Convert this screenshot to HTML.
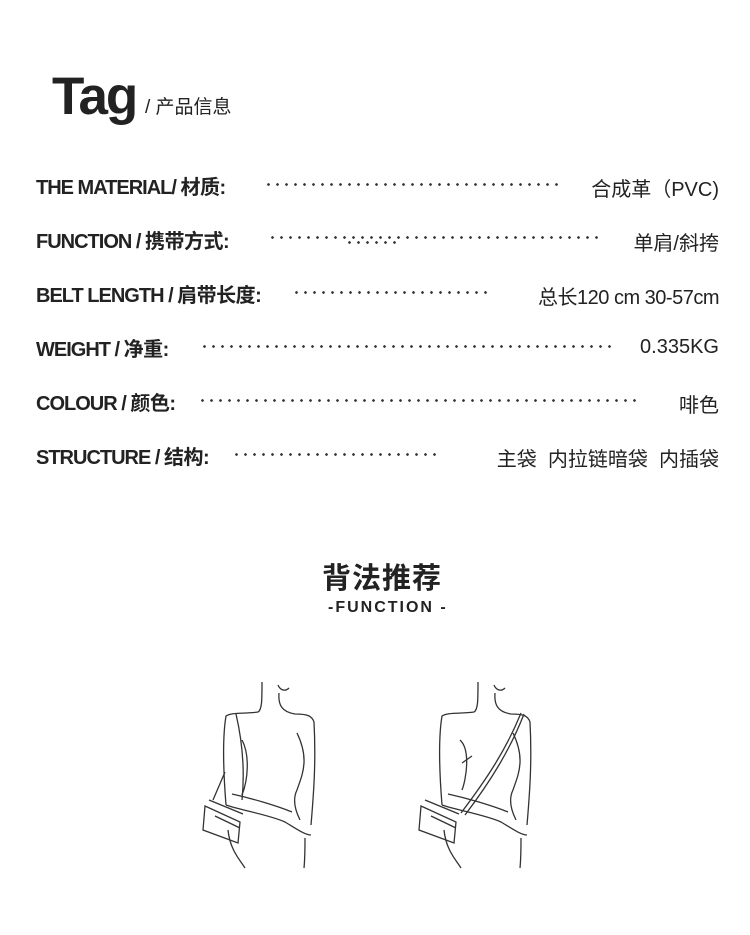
<!DOCTYPE html>
<html><head><meta charset="utf-8"><style>
body{margin:0;width:750px;height:935px;background:#fff;position:relative;overflow:hidden;font-family:"Liberation Sans","Noto Sans CJK SC",sans-serif;color:#222}
.a{position:absolute;white-space:nowrap}
.l{font-weight:bold;font-size:20px;letter-spacing:-1px;left:36px}
.l span{font-weight:bold;letter-spacing:-0.5px}
.d{position:absolute;height:3px;background-image:radial-gradient(circle,#333 1.2px,transparent 1.5px);background-size:9px 3px}
.v{font-size:20px;right:31px}
</style></head><body>
<div class="a" style="left:52px;top:66px;font-size:53px;font-weight:bold;letter-spacing:-2px;color:#222">Tag</div>
<div class="a" style="left:145px;top:92px;font-size:19px">/ 产品信息</div>

<div class="a l" style="top:171px">THE MATERIAL/ <span>材质:</span></div>
<div class="d" style="left:264px;top:183px;width:298px"></div>
<div class="a v" style="top:173px">合成革（PVC)</div>

<div class="a l" style="top:225px">FUNCTION / <span>携带方式:</span></div>
<div class="d" style="left:268px;top:236px;width:334px"></div>
<div class="d" style="left:345px;top:241px;width:56px"></div>
<div class="a v" style="top:227px">单肩/斜挎</div>

<div class="a l" style="top:279px">BELT LENGTH / <span>肩带长度:</span></div>
<div class="d" style="left:292px;top:291px;width:198px"></div>
<div class="a v" style="top:281px;letter-spacing:-0.5px">总长120 cm 30-57cm</div>

<div class="a l" style="top:333px">WEIGHT / <span>净重:</span></div>
<div class="d" style="left:200px;top:345px;width:414px"></div>
<div class="a v" style="top:336px">0.335KG</div>

<div class="a l" style="top:387px">COLOUR / <span>颜色:</span></div>
<div class="d" style="left:198px;top:399px;width:442px"></div>
<div class="a v" style="top:389px">啡色</div>

<div class="a l" style="top:441px">STRUCTURE / <span>结构:</span></div>
<div class="d" style="left:232px;top:453px;width:208px"></div>
<div class="a v" style="top:443px">主袋&nbsp; 内拉链暗袋&nbsp; 内插袋</div>

<div class="a" style="left:322px;top:555px;font-size:29px;font-weight:bold;letter-spacing:1px">背法推荐</div>
<div class="a" style="left:328px;top:599px;font-size:16px;font-weight:bold;letter-spacing:2px">-FUNCTION -</div>

<svg class="a" style="left:0;top:0" width="750" height="935" fill="none" stroke="#333" stroke-width="1.3">
<g>
<path d="M262 682 C262 700 262 710 258 712 C245 714 232 712 226 716 C222 740 224 780 226 805"/>
<path d="M278 685 C280 690 285 692 289 688 M279 693 C278 705 282 712 295 714 C308 714 312 716 314 722 C316 760 314 790 311 825"/>
<path d="M236 714 C242 740 245 770 242 800"/>
<path d="M242 740 C250 755 248 780 242 795"/>
<path d="M297 733 C310 760 302 775 297 790 C292 800 296 812 300 820"/>
<path d="M226 805 C240 810 270 815 285 822 C295 828 305 835 311 835 M232 794 C250 798 275 805 292 812"/>
<path d="M205 806 L240 822 L238 843 L203 830 Z M209 800 L243 814 M215 816 L240 828 M225 772 L213 800"/>
<path d="M228 830 C230 850 240 860 245 868 M305 838 C305 850 305 858 304 868"/>
</g>
<g transform="translate(216 0)">
<path d="M262 682 C262 700 262 710 258 712 C245 714 232 712 226 716 C222 740 224 780 226 805"/>
<path d="M278 685 C280 690 285 692 289 688 M279 693 C278 705 282 712 295 714 C308 714 312 716 314 722 C316 760 314 790 311 825"/>
<path d="M305 713 C290 750 270 780 245 813 M308 714 C294 750 274 782 249 815"/>
<path d="M244 740 C255 750 250 780 246 790"/>
<path d="M297 733 C310 760 302 775 297 790 C292 800 296 812 300 820"/>
<path d="M226 805 C240 810 270 815 285 822 C295 828 305 835 311 835 M232 794 C250 798 275 805 292 812"/>
<path d="M205 806 L240 822 L238 843 L203 830 Z M209 800 L243 814 M215 816 L240 828 M246 763 L256 756"/>
<path d="M228 830 C230 850 240 860 245 868 M305 838 C305 850 305 858 304 868"/>
</g>
</svg>
</body></html>
